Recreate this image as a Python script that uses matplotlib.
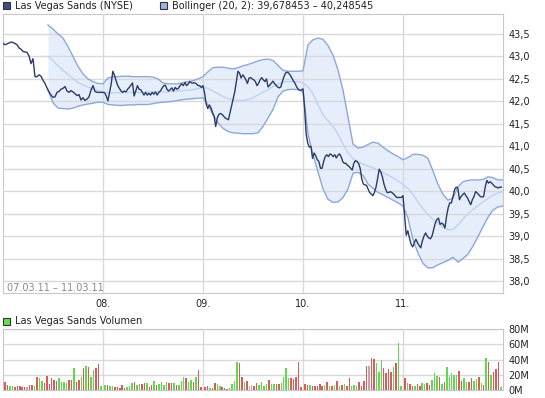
import numpy as np
import matplotlib.pyplot as plt
from matplotlib.patches import Rectangle

# intraday price, one list per trading day (07.03.11 - 11.03.11)
day_labels = ['08.', '09.', '10.', '11.']
price_d1 = [43.29, 43.26, 43.28, 43.30, 43.32, 43.31, 43.29, 43.26, 43.19, 43.16,
            43.11, 43.10, 43.09, 43.01, 42.84, 42.95, 42.55, 42.55, 42.59, 42.56,
            42.47, 42.40, 42.30, 42.21, 42.14, 42.09, 42.10, 42.20, 42.22, 42.27,
            42.29, 42.33, 42.23, 42.20, 42.24, 42.21, 42.17, 42.13, 42.15, 42.03,
            42.08, 42.02, 42.05, 42.10, 42.25, 42.35, 42.22, 42.20, 42.20, 42.20]
price_d2 = [42.20, 42.19, 42.12, 42.01, 42.20, 42.39, 42.67, 42.58, 42.46, 42.35,
            42.29, 42.23, 42.20, 42.23, 42.21, 42.27, 42.31, 42.36, 42.41, 42.12,
            42.23, 42.35, 42.27, 42.26, 42.20, 42.14, 42.20, 42.14, 42.18, 42.14,
            42.20, 42.16, 42.21, 42.14, 42.20, 42.23, 42.29, 42.35, 42.36, 42.27,
            42.23, 42.26, 42.30, 42.23, 42.31, 42.27, 42.29, 42.35, 42.39, 42.35,
            42.42, 42.35, 42.39, 42.44, 42.41, 42.41, 42.41, 42.39, 42.35, 42.35,
            42.31]
price_d3 = [42.35, 42.18, 41.94, 41.84, 41.92, 41.86, 41.75, 41.67, 41.44,
            41.63, 41.71, 41.73, 41.71, 41.67, 41.63, 41.61, 41.59, 41.75, 41.90,
            42.05, 42.21, 42.44, 42.67, 42.63, 42.52, 42.59, 42.55, 42.48, 42.40,
            42.52, 42.53, 42.50, 42.48, 42.44, 42.35, 42.40, 42.48, 42.53, 42.48,
            42.44, 42.50, 42.32, 42.36, 42.40, 42.45, 42.40, 42.36, 42.32, 42.30,
            42.32, 42.44, 42.55, 42.63, 42.65, 42.63, 42.58, 42.52, 42.45, 42.40,
            42.32, 42.27, 42.25, 42.25]
price_d4 = [42.28, 41.85, 41.27, 41.07, 40.98, 41.00, 40.73, 40.85, 40.79,
            40.70, 40.66, 40.51, 40.51, 40.66, 40.77, 40.81, 40.77,
            40.83, 40.81, 40.77, 40.81, 40.74, 40.80, 40.83, 40.77, 40.66, 40.62,
            40.62, 40.58, 40.55, 40.51, 40.47, 40.62, 40.68, 40.66, 40.62, 40.51,
            40.28, 40.16, 40.14, 40.13, 40.05, 39.97, 39.94, 39.90, 39.97, 40.09,
            40.28, 40.49, 40.43, 40.32, 40.16, 40.05, 39.97, 39.97, 39.99, 39.97,
            39.94, 39.90, 39.86, 39.86, 39.86, 39.86]
price_d5 = [39.90, 39.45, 39.02, 39.12, 38.96, 38.82,
            38.76, 38.85, 38.93, 38.85, 38.79, 38.74, 38.89, 39.00, 39.07, 39.00,
            38.96, 38.94, 39.00, 39.15, 39.29, 39.37, 39.40, 39.26, 39.29, 39.26,
            39.18, 39.44, 39.63, 39.74, 39.74, 39.88, 40.04, 40.09, 40.07, 39.81,
            39.88, 39.92, 39.96, 39.90, 39.85, 39.77, 39.70, 39.81, 39.88, 39.99,
            39.96, 39.92, 39.88, 39.87, 39.88, 40.10, 40.24, 40.18, 40.21, 40.18,
            40.14, 40.10, 40.09, 40.07, 40.09, 40.09]
prices = [price_d1, price_d2, price_d3, price_d4, price_d5]

# Bollinger (20, 2), sampled every 0.05 day from 0.45
band_t = np.linspace(0.45, 5.0, 92)
boll_upper = [43.70, 43.61, 43.50, 43.41, 43.22, 43.00, 42.78, 42.61, 42.50, 42.44,
              42.40, 42.39, 42.52, 42.55, 42.55, 42.56, 42.56, 42.55, 42.55, 42.55,
              42.55, 42.54, 42.50, 42.41, 42.39, 42.39, 42.39, 42.42, 42.44, 42.46,
              42.50, 42.55, 42.66, 42.75, 42.76, 42.76, 42.74, 42.72, 42.75, 42.79,
              42.82, 42.86, 42.90, 42.93, 42.94, 42.91, 42.80, 42.69, 42.67, 42.67,
              42.67, 42.68, 43.26, 43.37, 43.41, 43.38, 43.24, 43.03, 42.70, 42.25,
              41.65, 41.05, 40.96, 40.98, 41.04, 41.09, 41.07, 40.98, 40.90, 40.83,
              40.77, 40.70, 40.75, 40.82, 40.82, 40.80, 40.73, 40.45, 40.15, 39.93,
              39.80, 39.85, 40.10, 40.21, 40.24, 40.25, 40.25, 40.26, 40.32, 40.30,
              40.25, 40.25]
boll_mid = [43.00, 42.91, 42.79, 42.69, 42.60, 42.51, 42.42, 42.37, 42.32, 42.27,
            42.24, 42.22, 42.19, 42.19, 42.19, 42.20, 42.20, 42.20, 42.20, 42.20,
            42.21, 42.21, 42.21, 42.21, 42.21, 42.22, 42.23, 42.24, 42.25, 42.26,
            42.28, 42.31, 42.29, 42.23, 42.17, 42.11, 42.06, 42.03, 42.02, 42.02,
            42.04, 42.08, 42.14, 42.20, 42.26, 42.33, 42.38, 42.43, 42.44, 42.44,
            42.44, 42.41, 42.32, 42.17, 41.92, 41.70, 41.57, 41.45, 41.27, 41.05,
            40.86, 40.72, 40.66, 40.60, 40.56, 40.52, 40.47, 40.41, 40.36, 40.30,
            40.23, 40.15, 40.06, 39.93, 39.76, 39.61, 39.48, 39.37, 39.29, 39.20,
            39.14, 39.15, 39.25, 39.38, 39.50, 39.59, 39.68, 39.76, 39.84, 39.91,
            39.96, 39.99]
boll_lower = [42.25, 41.97, 41.85, 41.84, 41.83, 41.85, 41.89, 41.92, 41.94, 41.96,
              41.98, 41.98, 41.93, 41.92, 41.91, 41.91, 41.92, 41.92, 41.93, 41.93,
              41.93, 41.95, 41.97, 41.98, 41.99, 42.00, 42.02, 42.04, 42.05, 42.06,
              42.07, 42.08, 41.92, 41.70, 41.52, 41.40, 41.33, 41.30, 41.29, 41.28,
              41.28, 41.28, 41.30, 41.44, 41.63, 41.82, 42.10, 42.23, 42.26, 42.27,
              42.26, 42.22, 41.27, 40.81, 40.43, 40.05, 39.82, 39.75, 39.76, 39.86,
              40.05, 40.40, 40.42, 40.35, 40.16, 40.06, 39.97, 39.92, 39.86, 39.80,
              39.74, 39.67, 39.40, 38.92, 38.62, 38.39, 38.29, 38.30, 38.36, 38.41,
              38.46, 38.53, 38.42, 38.50, 38.60, 38.78, 38.99, 39.21, 39.42, 39.58,
              39.65, 39.67]

# volume in millions, 40 bars per day; r = down, g = up, n = unchanged
vol_d1 = [10.7, 6.7, 5.3, 5.3, 4, 5.3, 5.3, 4, 4, 4, 6.7, 6.7, 5.3, 16.4, 15.1, 12, 9.8,
          18.7, 8.4, 15.1, 13.3, 12, 15.1, 10.7, 10.7, 9.8, 13.3, 13.3, 28.4, 10.7, 13.3,
          16.4, 28.4, 31.1, 30.7, 16.4, 26.7, 28.4, 33.8, 5.3]
vol_d2 = [6.7, 6.7, 5.3, 5.3, 4, 4, 3.1, 6.7, 3.1, 4.4, 5.3, 9.8, 10.7, 6.7, 8.4, 8.4, 9.8,
          9.8, 4, 6.7, 12, 6.7, 8.4, 10.7, 6.7, 10.7, 9.8, 9.8, 9.8, 6.7, 6.7, 12, 16.4,
          15.1, 10.7, 13.3, 10.7, 16.4, 26.7, 4]
vol_d3 = [4, 5.3, 3.1, 3.1, 8.9, 7.6, 5.3, 4, 3.1, 1.8, 3.1, 8.4, 12, 36.4, 35.1, 16.4,
          10.7, 12, 5.3, 6.7, 5.3, 8.9, 6.7, 10.7, 5.3, 8.4, 13.3, 7.6, 7.6, 7.6, 8.4, 9.8,
          17.3, 28.4, 15.1, 15.1, 14.2, 16.4, 37.3, 4]
vol_d4 = [8.4, 6.7, 6.7, 5.3, 5.3, 5.3, 8.4, 5.3, 6.7, 10.7, 5.3, 5.3, 6.7, 12, 5.3, 6.7,
          8.4, 5.3, 15.1, 5.3, 6.7, 5.3, 10.7, 5.3, 12, 32, 32, 41.8, 40.4, 35.1, 24, 39.1,
          28.4, 22.7, 27.1, 24, 29.8, 35.1, 61.3, 5.3]
vol_d5 = [15.1, 9.8, 7.6, 5.3, 5.3, 7.6, 5.3, 9.8, 8.4, 9.8, 6.7, 13.3, 22.7, 17.8, 16.4,
          8.4, 10.7, 29.8, 16.4, 22.7, 20, 20, 25.3, 12, 15.1, 10.7, 10.7, 15.1, 12, 14.2,
          16.4, 9.8, 6.7, 41.8, 36.4, 20, 24, 27.1, 36.4, 4.4]
col_d1 = "rrggrrrrrnrrgrggrrrrrrggggrrgrrgrgrggrrg"
col_d2 = "grggrrrrrgggrggrrgrrgrggggrrgrgggrggrgrr"
col_d3 = "rrgrrggrrrggggrrgrnnrrggggrggrrggggrrrrr"
col_d4 = "rrgrrrrrgrgrgrgrgrrgggrrrrnrrgggrrrrgrgg"
col_d5 = "rgrrgrrggrrgggrgrgggggrrggrrggrgrgrgrrrg"
volumes = [vol_d1, vol_d2, vol_d3, vol_d4, vol_d5]
vol_cols = [col_d1, col_d2, col_d3, col_d4, col_d5]
bar_colors = {'r': '#dd5a5a', 'g': '#5fd94e', 'n': '#b0b0b0'}

W, H = 545, 398
fig = plt.figure(figsize=(W / 100, H / 100), dpi=100)


def box(x0, y0, x1, y1):
    return [x0 / W, 1 - y1 / H, (x1 - x0) / W, (y1 - y0) / H]


grid_c = '#d9d9d9'
ax = fig.add_axes(box(3, 14, 503, 293))
axv = fig.add_axes(box(3, 329, 503, 390))

# price chart
px, py = [], []
for d, vals in enumerate(prices):
    n = len(vals)
    px.extend(d + np.arange(n) / n)
    py.extend(vals)

ax.fill_between(band_t, boll_lower, boll_upper, color='#e6eefb', lw=0, zorder=1)
ax.plot(band_t, boll_upper, color='#8ea7da', lw=1, zorder=3)
ax.plot(band_t, boll_lower, color='#8ea7da', lw=1, zorder=3)
ax.plot(band_t, boll_mid, color='#bed2f4', lw=1, zorder=3)
ax.plot(px, py, color='#2b3c66', lw=1, zorder=4)

ax.set_xlim(0, 5)
ax.set_ylim(37.733, 43.945)
yt = np.arange(38.0, 43.51, 0.5)
ax.set_yticks(yt)
ax.set_yticklabels([f'{v:.1f}'.replace('.', ',') for v in yt])
ax.set_xticks([1, 2, 3, 4])
ax.set_xticklabels(day_labels)
ax.yaxis.tick_right()
ax.tick_params(axis='both', length=0, labelsize=7, colors='#222222')
ax.tick_params(axis='y', pad=4)
ax.tick_params(axis='x', pad=4)
ax.set_axisbelow(False)
ax.grid(color=grid_c, lw=1, zorder=2)
for s in ax.spines.values():
    s.set_color('#c8c8c8')

# volume chart
for d, (vals, cols) in enumerate(zip(volumes, vol_cols)):
    x = d + 0.02 + np.arange(len(vals)) * 0.0246
    axv.bar(x, vals, width=0.015, color=[bar_colors[c] for c in cols], lw=0, zorder=3)
axv.set_xlim(0, 5)
axv.set_ylim(0, 80)
axv.set_yticks([0, 20, 40, 60, 80])
axv.set_yticklabels(['0M', '20M', '40M', '60M', '80M'])
axv.set_xticks([1, 2, 3, 4])
axv.set_xticklabels([])
axv.yaxis.tick_right()
axv.tick_params(axis='both', length=0, labelsize=7, colors='#222222')
axv.tick_params(axis='y', pad=4)
axv.grid(color=grid_c, lw=1, zorder=0)
axv.set_axisbelow(True)
for s in axv.spines.values():
    s.set_color('#c8c8c8')

# legends and labels
def square(x, y, face):
    fig.patches.append(Rectangle((x / W, 1 - (y + 7) / H), 7 / W, 7 / H,
                                 transform=fig.transFigure, facecolor=face,
                                 edgecolor='#333333', lw=0.8))


square(3, 2, '#3d5080')
fig.text(15 / W, 1 - 6 / H, 'Las Vegas Sands (NYSE)', va='center', size=7, color='#222222')
square(160, 2, '#9db4e3')
fig.text(172 / W, 1 - 6 / H, 'Bollinger (20, 2): 39,678453 \u2013 40,248545',
         va='center', size=7, color='#222222')
square(3, 318, '#66dd55')
fig.text(15 / W, 1 - 321 / H, 'Las Vegas Sands Volumen', va='center', size=7, color='#222222')
fig.text(7 / W, 1 - 288 / H, '07.03.11 \u2013 11.03.11', va='center', size=7, color='#8a8a8a')

fig.savefig('out.png', dpi=100)
